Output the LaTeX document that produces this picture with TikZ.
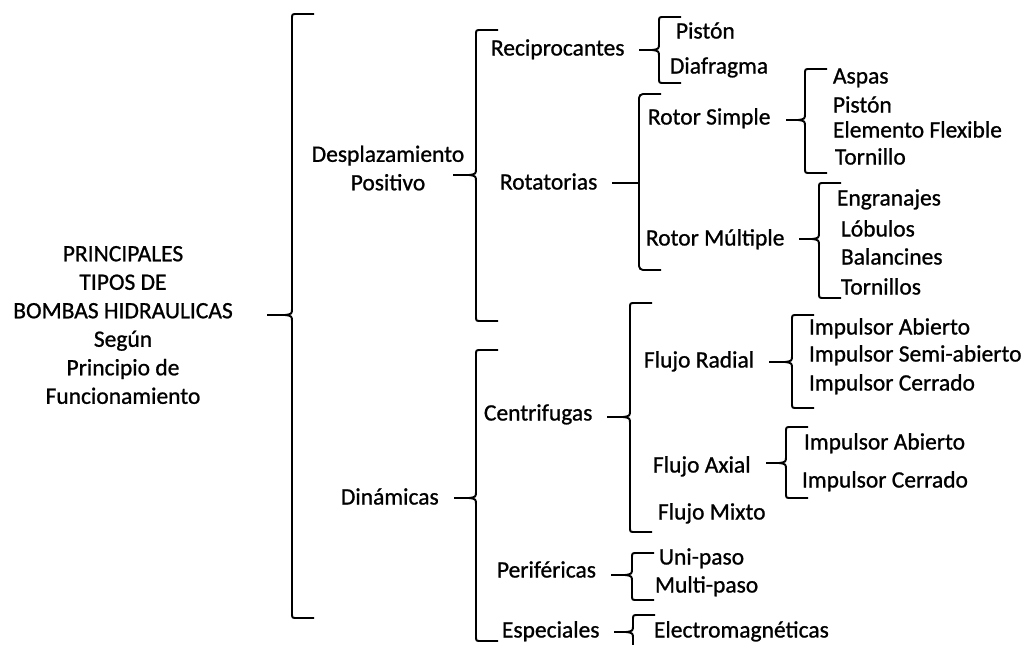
\documentclass[tikz,border=0pt]{standalone}
\usepackage{fontspec}
\setmainfont{Carlito}[FakeBold=0.9]
% brace: x, top, tip, bottom, name of the tip
\newcommand{\llave}[5]{%
\draw ({#1+22},#2) -- ({#1+5},#2) .. controls (#1,#2) .. (#1,{#2+5}) -- (#1,{#3-7}) .. controls (#1,{#3-1}) .. ({#1-7},#3) .. controls (#1,{#3+1}) .. (#1,{#3+7}) -- (#1,{#4-5}) .. controls (#1,#4) .. ({#1+5},#4) -- ({#1+22},#4);
\coordinate (#5) at ({#1-7},#3);}
\begin{document}
\begin{tikzpicture}[x=1pt, y=-1pt, line width=1.9pt,
  every node/.style={font=\fontsize{23.5}{28.5}\selectfont},
  hoja/.style={anchor=west, inner sep=0pt, text height=15pt, text depth=0pt},
  guion/.style={shorten >=14pt}]
\useasboundingbox (0,0) rectangle (1026,645);
%title
\node[align=center, inner sep=0pt] (tit) at (123,325) {PRINCIPALES\\TIPOS DE\\BOMBAS HIDRAULICAS\\Según\\Principio de\\Funcionamiento};
%first level
\node[align=center, inner sep=0pt] (desp) at (388,168) {Desplazamiento\\Positivo};
\node[hoja] (din) at (340,497) {Dinámicas};
%second level
\node[hoja] (rec) at (490,48) {Reciprocantes};
\node[hoja] (rot) at (499,182) {Rotatorias};
\node[hoja] (cen) at (483,413) {Centrifugas};
\node[hoja] (per) at (496,570) {Periféricas};
\node[hoja] (esp) at (501,630) {Especiales};
%third level
\node[hoja] (pis1) at (675,31) {Pistón};
\node[hoja] (dia) at (669,66) {Diafragma};
\node[hoja] (rs) at (647,117) {Rotor Simple};
\node[hoja] (rm) at (645,238) {Rotor Múltiple};
\node[hoja] (fr) at (643,360) {Flujo Radial};
\node[hoja] (fa) at (652,465) {Flujo Axial};
\node[hoja] (fm) at (657,512) {Flujo Mixto};
\node[hoja] (uni) at (658,557) {Uni-paso};
\node[hoja] (multi) at (654,585) {Multi-paso};
\node[hoja] (ele) at (653,630) {Electromagnéticas};
%fourth level
\node[hoja] (asp) at (832,76) {Aspas};
\node[hoja] (pis2) at (832,105) {Pistón};
\node[hoja] (efl) at (832,130) {Elemento Flexible};
\node[hoja] (tor) at (834,157) {Tornillo};
\node[hoja] (eng) at (836,198) {Engranajes};
\node[hoja] (lob) at (840,229) {Lóbulos};
\node[hoja] (bal) at (840,257) {Balancines};
\node[hoja] (tors) at (840,287) {Tornillos};
\node[hoja] (ia1) at (808,327) {Impulsor Abierto};
\node[hoja] (isa) at (808,354) {Impulsor Semi-abierto};
\node[hoja] (ic1) at (808,383) {Impulsor Cerrado};
\node[hoja] (ia2) at (803,442) {Impulsor Abierto};
\node[hoja] (ic2) at (801,480) {Impulsor Cerrado};
%braces
\llave{292}{14}{315}{618}{b0}
\llave{476}{30}{175}{321}{b1}
\llave{659}{17}{50}{83}{b2}
\llave{805}{69}{120}{173}{b4}
\llave{819}{183}{239}{298}{b5}
\llave{476}{350}{498}{641}{b6}
\llave{630}{303}{417}{532}{b7}
\llave{792}{315}{362}{408}{b8}
\llave{786}{427}{463}{498}{b9}
\llave{632}{553}{575}{600}{b10}
\llave{633}{615}{632}{650}{b11}
%square bracket of Rotatorias
\draw[rounded corners=4pt] (661,94) -- (639,94) -- (639,270) -- (661,270);
\coordinate (b3) at (639,183);
%dashes
\draw[shorten >=33pt] (b0) -- (b0 -| tit.east);
\draw[shorten >=-12pt] (b1) -- (b1 -| desp.east);
\draw[guion] (b6) -- (b6 -| din.east);
\draw[guion] (b2) -- (b2 -| rec.east);
\draw[guion] (b3) -- (b3 -| rot.east);
\draw[guion] (b7) -- (b7 -| cen.east);
\draw[guion] (b10) -- (b10 -| per.east);
\draw[guion] (b11) -- (b11 -| esp.east);
\draw[guion] (b4) -- (b4 -| rs.east);
\draw[guion] (b5) -- (b5 -| rm.east);
\draw[guion] (b8) -- (b8 -| fr.east);
\draw[guion] (b9) -- (b9 -| fa.east);
\end{tikzpicture}
\end{document}
